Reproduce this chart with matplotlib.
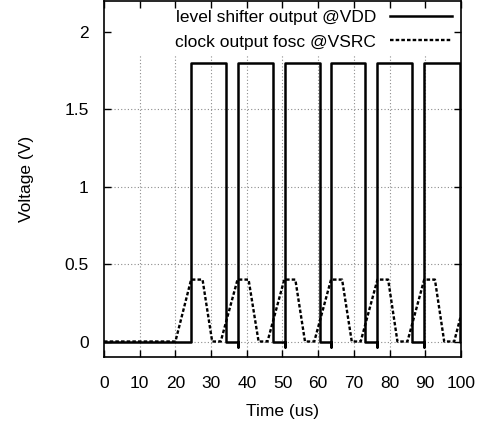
import numpy as np
import matplotlib
matplotlib.use("Agg")
import matplotlib.pyplot as plt

plt.rcParams["font.family"] = ["Liberation Sans", "DejaVu Sans"]
plt.rcParams["font.size"] = 12.5

# level shifter output @VDD (time in us, voltage in V)
ls_t = [0, 24.4, 24.4, 34.2, 34.2, 37.5, 37.5, 37.5, 47.3, 47.3, 50.6, 50.6, 50.6,
        60.5, 60.5, 63.6, 63.6, 63.6, 73.0, 73.0, 76.6, 76.6, 76.6, 86.2, 86.2,
        89.7, 89.7, 89.7, 99.8, 99.8, 100]
ls_v = [0, 0, 1.8, 1.8, 0, 0, -0.035, 1.8, 1.8, 0, 0, -0.035, 1.8,
        1.8, 0, 0, -0.035, 1.8, 1.8, 0, 0, -0.035, 1.8, 1.8, 0,
        0, -0.035, 1.8, 1.8, 0, 0]

# clock output fosc @VSRC
ck_t = [0, 20.0, 24.4, 27.6, 30.3, 32.7, 37.4, 40.5, 43.3, 45.8, 50.5, 53.6, 56.3,
        58.9, 63.6, 66.7, 69.4, 71.9, 76.6, 79.6, 82.2, 85.0, 89.7, 92.7, 95.3,
        98.1, 100]
ck_v = [0, 0, 0.4, 0.4, 0, 0, 0.4, 0.4, 0, 0, 0.4, 0.4, 0,
        0, 0.4, 0.4, 0, 0, 0.4, 0.4, 0, 0, 0.4, 0.4, 0,
        0, 0.17]

xticks = [0, 10, 20, 30, 40, 50, 60, 70, 80, 90, 100]
yticks = [0, 0.5, 1, 1.5, 2]
ytick_labels = ["0", "0.5", "1", "1.5", "2"]

fig = plt.figure(figsize=(4.78, 4.30), dpi=100)
ax = fig.add_axes([0.2176, 0.1698, 0.7468, 0.8279])
ax.set_xlim(0, 100)
ax.set_ylim(-0.1, 2.2)

# gnuplot-like dotted grid, kept clear of the key area
grid_kw = dict(color="0.55", lw=0.8, ls=(0, (1, 2)), zorder=0)
ax.vlines(xticks[1:-1], -0.1, 1.86, **grid_kw)
ax.hlines(yticks[:-1], 0, 100, **grid_kw)

ax.plot(ls_t, ls_v, color="black", lw=1.8, label="level shifter output @VDD")
ax.plot(ck_t, ck_v, color="black", lw=1.7, ls=(0, (1.5, 0.9)),
        label="clock output fosc @VSRC")

ax.set_xticks(xticks)
ax.set_yticks(yticks)
ax.set_yticklabels(ytick_labels)
ax.tick_params(direction="in", length=5, width=1, top=True, right=True,
               labelsize=12.5)
ax.tick_params(axis="x", pad=14)
ax.tick_params(axis="y", pad=11)
for s in ax.spines.values():
    s.set_linewidth(1.2)

ax.set_xlabel("Time (us)", fontsize=12.5, labelpad=9)
ax.set_ylabel("Voltage (V)", fontsize=12.5, labelpad=22)

ax.legend(loc="upper right", frameon=False, markerfirst=False,
          handlelength=3.6, handletextpad=0.8, labelspacing=0.55,
          borderaxespad=0.2, borderpad=0.3, fontsize=12.5)

fig.savefig("out.png", dpi=100)
